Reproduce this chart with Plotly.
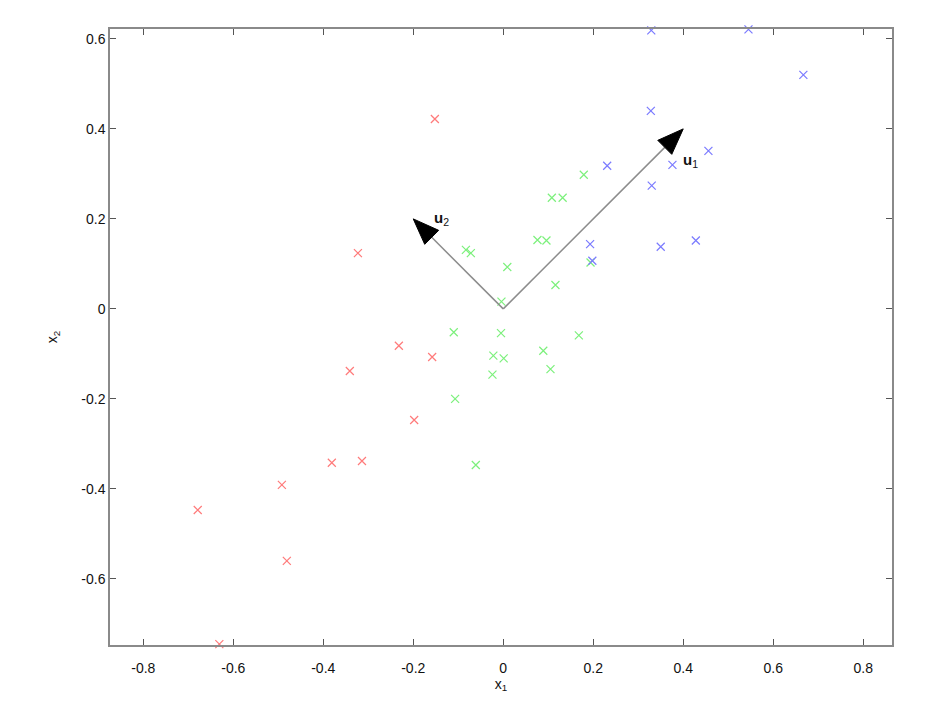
import numpy as np
import plotly.graph_objects as go

# ---- data ----
red_x = [-0.152, -0.323, -0.232, -0.158, -0.341, -0.198, -0.381, -0.314, -0.492, -0.679, -0.481, -0.631]
red_y = [0.422, 0.124, -0.082, -0.107, -0.138, -0.247, -0.342, -0.338, -0.391, -0.447, -0.560, -0.745]

green_x = [-0.110, -0.005, 0.168, -0.022, 0.001, 0.089, 0.105, -0.024, -0.107, -0.061, -0.004,
           0.194, 0.179, 0.108, 0.132, 0.076, 0.096, -0.083, -0.072, 0.009, 0.116]
green_y = [-0.052, -0.054, -0.059, -0.104, -0.110, -0.093, -0.134, -0.146, -0.200, -0.347, 0.016,
           0.103, 0.298, 0.247, 0.247, 0.153, 0.152, 0.131, 0.124, 0.093, 0.053]

blue_x = [0.328, 0.456, 0.376, 0.330, 0.231, 0.193, 0.350, 0.428, 0.198, 0.329, 0.545, 0.667]
blue_y = [0.440, 0.351, 0.320, 0.274, 0.318, 0.144, 0.138, 0.152, 0.107, 0.619, 0.621, 0.520]

u1 = (0.40, 0.40)
u2 = (-0.20, 0.20)

x_ticks = [-0.8, -0.6, -0.4, -0.2, 0, 0.2, 0.4, 0.6, 0.8]
y_ticks = [-0.6, -0.4, -0.2, 0, 0.2, 0.4, 0.6]

X_RANGE = [-0.874, 0.864]
Y_RANGE = [-0.747, 0.622]

FONT = "Liberation Sans, Arial, sans-serif"

fig = go.Figure()

def add_points(xs, ys, color):
    fig.add_trace(go.Scatter(
        x=xs, y=ys, mode="markers", cliponaxis=False, showlegend=False,
        marker=dict(symbol="x-thin", size=8, line=dict(color=color, width=1.2)),
    ))

add_points(red_x, red_y, "#ff7a7a")
add_points(green_x, green_y, "#7cf07c")
add_points(blue_x, blue_y, "#7a7aff")

# arrows: gray shaft + black triangular head (drawn on the overlay x axis, same range)
head_len = 0.058
head_half = 0.022
for (vx, vy) in (u1, u2):
    L = np.hypot(vx, vy)
    dx, dy = vx / L, vy / L
    px, py = -dy, dx
    bx, by = vx - head_len * dx, vy - head_len * dy
    fig.add_trace(go.Scatter(
        x=[0, bx], y=[0, by], mode="lines", showlegend=False, xaxis="x2",
        line=dict(color="#8c8c8c", width=1.5), hoverinfo="skip",
    ))
    fig.add_trace(go.Scatter(
        x=[vx, bx + head_half * px, bx - head_half * px, vx],
        y=[vy, by + head_half * py, by - head_half * py, vy],
        mode="lines", fill="toself", fillcolor="black", xaxis="x2",
        line=dict(color="black", width=1), showlegend=False, hoverinfo="skip",
    ))

fig.add_annotation(x=u1[0] - 0.005, y=u1[1] - 0.07, xref="x", yref="y", showarrow=False,
                   xanchor="left", yanchor="middle",
                   text="<b>u</b><sub>1</sub>", font=dict(family=FONT, size=15, color="#111"))
fig.add_annotation(x=u2[0] + 0.042, y=u2[1], xref="x", yref="y", showarrow=False,
                   xanchor="left", yanchor="middle",
                   text="<b>u</b><sub>2</sub>", font=dict(family=FONT, size=15, color="#111"))

TICKFONT = dict(family=FONT, size=14, color="#111")

fig.update_layout(
    # main x axis: labels pushed down by transparent outside ticks
    xaxis=dict(range=X_RANGE, tickvals=x_ticks, ticktext=[f"{v:g}" for v in x_ticks],
               showgrid=False, zeroline=False, showline=True, mirror=True,
               linecolor="#8a8a8a", linewidth=1.5,
               ticks="outside", ticklen=9, tickcolor="rgba(0,0,0,0)",
               tickfont=TICKFONT, automargin=False,
               title=dict(text="x<sub>1</sub>", standoff=2,
                          font=dict(family=FONT, size=14, color="#111"))),
    # overlay x axis providing the visible inside ticks (bottom + top)
    xaxis2=dict(range=X_RANGE, overlaying="x", side="bottom", tickvals=x_ticks,
                showticklabels=False, showgrid=False, zeroline=False,
                showline=False, mirror="ticks", ticks="inside", ticklen=6,
                tickcolor="#555", tickwidth=1, automargin=False),
    yaxis=dict(range=Y_RANGE, tickvals=y_ticks, ticktext=[f"{v:g}" for v in y_ticks],
               showgrid=False, zeroline=False, showline=True, mirror="ticks",
               linecolor="#8a8a8a", linewidth=1.5, ticks="inside", ticklen=6,
               tickcolor="#555", tickwidth=1, tickfont=TICKFONT, automargin=False,
               title=dict(text="x<sub>2</sub>", standoff=20,
                          font=dict(family=FONT, size=14, color="#111"))),
)

fig.update_layout(
    width=932, height=710,
    margin=dict(l=102, r=48, t=21, b=73, autoexpand=False),
    plot_bgcolor="white", paper_bgcolor="white",
    showlegend=False,
)

fig.write_html("out.html")
